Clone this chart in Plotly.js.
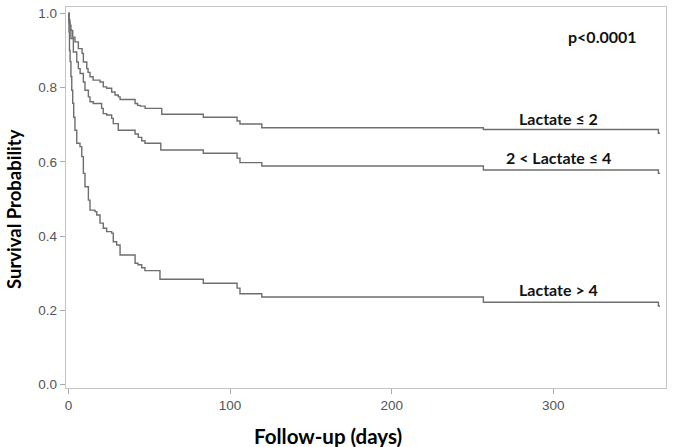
<!DOCTYPE html>
<html>
<head>
<meta charset="utf-8">
<script src="https://cdn.plot.ly/plotly-3.0.1.min.js"></script>
<style>html,body{margin:0;padding:0;background:#fff;}#chart{width:673px;height:447px;}</style>
</head>
<body>
<div id="chart"></div>
<script>
// Lactate <= 2
const daysLow = [0, 0.3, 0.9, 1.5, 2.6, 4.0, 6.1, 8.4, 9.2, 11.3, 12.1, 13.3, 15.2, 19.5, 21.5, 23.6, 26.7, 28.8, 30.8, 31.9, 41.2, 42.7, 44.3, 47.4, 57.7, 83.4, 104.3, 106.1, 119.6, 256.7, 365, 366];
const survLow = [1.0, 0.982, 0.968, 0.954, 0.936, 0.923, 0.905, 0.892, 0.869, 0.851, 0.841, 0.829, 0.820, 0.815, 0.802, 0.798, 0.788, 0.780, 0.775, 0.768, 0.757, 0.752, 0.750, 0.744, 0.728, 0.720, 0.710, 0.702, 0.692, 0.687, 0.677, 0.677];
// 2 < Lactate <= 4
const daysMid = [0, 0.3, 0.9, 1.5, 3.0, 5.1, 6.1, 7.2, 9.2, 10.2, 12.3, 13.3, 15.3, 20.5, 21.5, 23.6, 26.7, 27.7, 30.8, 41.2, 43.2, 45.3, 47.3, 57.1, 83.4, 104.3, 106.1, 119.6, 256.7, 365, 366];
const survMid = [1.0, 0.975, 0.955, 0.932, 0.896, 0.869, 0.851, 0.838, 0.815, 0.793, 0.775, 0.762, 0.757, 0.744, 0.730, 0.726, 0.717, 0.703, 0.685, 0.675, 0.666, 0.657, 0.650, 0.632, 0.623, 0.610, 0.598, 0.589, 0.578, 0.569, 0.569];
// Lactate > 4
const daysHigh = [0, 0.3, 0.6, 1.0, 1.5, 2.0, 2.6, 3.2, 4.0, 5.1, 7.1, 8.2, 9.2, 10.2, 12.3, 13.3, 16.4, 17.5, 19.5, 21.5, 23.6, 26.7, 27.7, 29.8, 31.9, 41.2, 43.0, 45.3, 47.3, 56.6, 83.4, 104.3, 106.1, 119.6, 256.7, 365, 366];
const survHigh = [1.0, 0.95, 0.90, 0.87, 0.83, 0.793, 0.758, 0.72, 0.685, 0.650, 0.641, 0.614, 0.569, 0.533, 0.497, 0.470, 0.466, 0.457, 0.435, 0.421, 0.412, 0.408, 0.385, 0.376, 0.349, 0.327, 0.323, 0.315, 0.307, 0.284, 0.273, 0.260, 0.245, 0.236, 0.222, 0.212, 0.212];

const groupLabels = ['Lactate \u2264 2', '2 < Lactate \u2264 4', 'Lactate > 4'];
const labelX = [303, 303, 303];
const labelY = [0.718, 0.613, 0.255];
const pText = 'p<0.0001';
const xTicks = [0, 100, 200, 300];
const yTicks = [0.0, 0.2, 0.4, 0.6, 0.8, 1.0];

const lineStyle = {color: '#6e6e6e', width: 1.4, shape: 'hv'};
const traces = [
  {x: daysLow, y: survLow, name: groupLabels[0]},
  {x: daysMid, y: survMid, name: groupLabels[1]},
  {x: daysHigh, y: survHigh, name: groupLabels[2]}
].map(t => Object.assign(t, {type: 'scatter', mode: 'lines', line: lineStyle, hoverinfo: 'x+y+name'}));

const labFont = {family: 'Lato, "Open Sans", sans-serif', size: 16, color: '#111'};
const annotations = groupLabels.map((g, i) => ({
  x: labelX[i], y: labelY[i], xref: 'x', yref: 'y', text: '<b>' + g + '</b>',
  showarrow: false, font: labFont, xanchor: 'center', yanchor: 'middle'
}));
annotations.push({x: 330.5, y: 0.937, xref: 'x', yref: 'y', text: '<b>' + pText + '</b>', showarrow: false, font: labFont, xanchor: 'center', yanchor: 'middle'});

const W = 673, H = 447, L = 66, R = 7, T = 7, B = 59;
const pw = W - L - R, ph = H - T - B;
// axis titles
annotations.push({x: (328 - L) / pw, y: (H - B - 436) / ph, xref: 'paper', yref: 'paper', text: '<b>Follow-up (days)</b>', showarrow: false,
  font: {family: 'Lato, sans-serif', size: 20.5, color: '#000'}, xanchor: 'center', yanchor: 'middle'});
annotations.push({x: (14 - L) / pw, y: (H - B - 209) / ph, xref: 'paper', yref: 'paper', text: '<b>Survival Probability</b>', showarrow: false,
  textangle: -90, font: {family: 'Lato, sans-serif', size: 18.5, color: '#000'}, xanchor: 'center', yanchor: 'middle'});

const axisCommon = {
  showgrid: false, zeroline: false, showline: true, linecolor: '#c4c4c4', linewidth: 1.2, mirror: true,
  ticks: 'outside', ticklen: 5, tickcolor: '#aaa', tickwidth: 1,
  tickfont: {family: 'Liberation Sans, Arial, sans-serif', size: 13.5, color: '#555'}
};
const layout = {
  width: W, height: H, margin: {l: L, r: R, t: T, b: B},
  paper_bgcolor: '#fff', plot_bgcolor: '#fff', showlegend: false,
  xaxis: Object.assign({}, axisCommon, {range: [-1.55, 369.7], tickvals: xTicks, ticktext: xTicks.map(String)}),
  yaxis: Object.assign({}, axisCommon, {range: [-0.009, 1.017], tickvals: yTicks, ticktext: yTicks.map(v => v.toFixed(1))}),
  annotations: annotations
};
Plotly.newPlot('chart', traces, layout, {displayModeBar: false, staticPlot: true});
</script>
</body>
</html>
